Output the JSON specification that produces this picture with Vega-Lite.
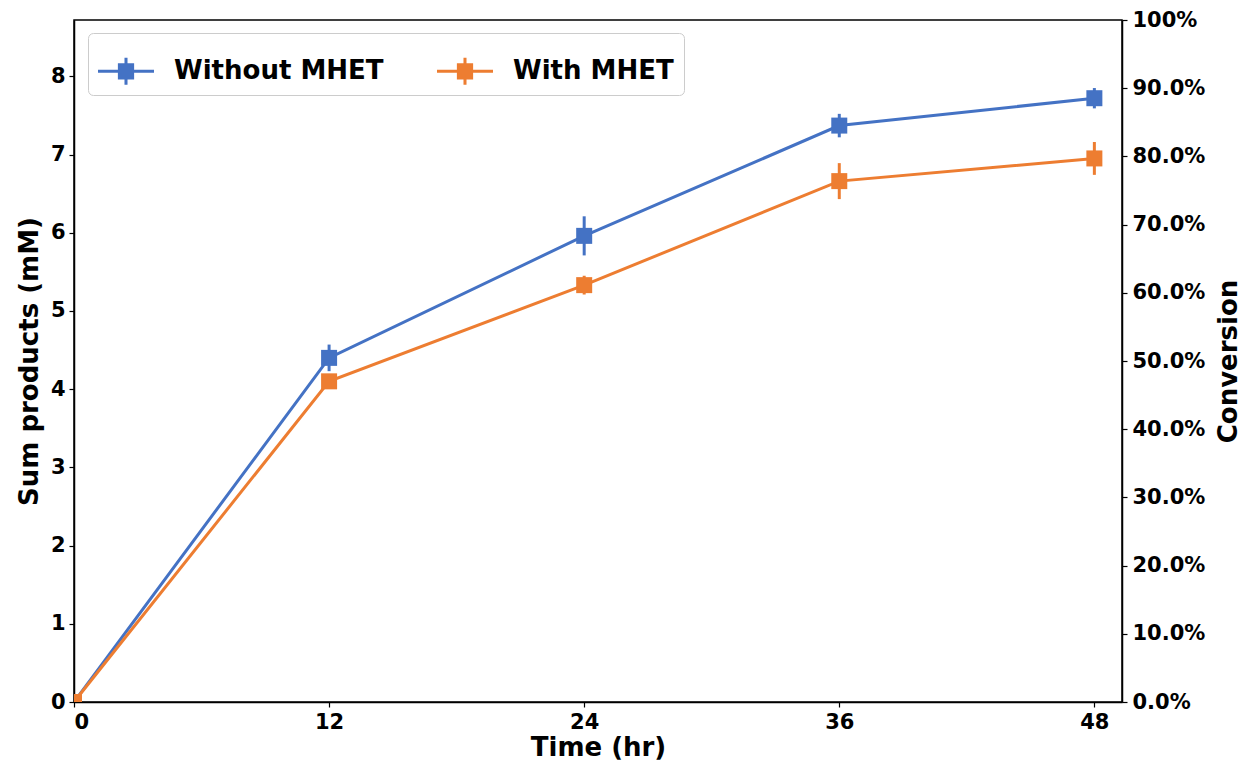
{
  "$schema": "https://vega.github.io/schema/vega-lite/v6.json",
  "width": 1048,
  "height": 682,
  "autosize": {"type": "none"},
  "padding": {"left": 74, "top": 20, "right": 120, "bottom": 63},
  "background": "white",
  "config": {
    "font": "DejaVu Sans",
    "view": {"stroke": "black", "strokeWidth": 1.5},
    "axis": {
      "grid": false,
      "domainColor": "black",
      "domainWidth": 1.5,
      "tickColor": "black",
      "tickWidth": 1.2,
      "tickSize": 5,
      "labelFont": "DejaVu Sans",
      "labelFontWeight": "bold",
      "labelFontSize": 21,
      "labelColor": "black",
      "titleFont": "DejaVu Sans",
      "titleFontWeight": "bold",
      "titleFontSize": 26,
      "titleColor": "black"
    }
  },
  "datasets": {
    "main": [
      {"time": 0, "value": 0, "err": 0, "series": "Without MHET"},
      {"time": 12, "value": 4.40, "err": 0.17, "series": "Without MHET"},
      {"time": 24, "value": 5.96, "err": 0.25, "series": "Without MHET"},
      {"time": 36, "value": 7.37, "err": 0.15, "series": "Without MHET"},
      {"time": 48, "value": 7.72, "err": 0.13, "series": "Without MHET"},
      {"time": 0, "value": 0, "err": 0, "series": "With MHET"},
      {"time": 12, "value": 4.10, "err": 0.05, "series": "With MHET"},
      {"time": 24, "value": 5.33, "err": 0.12, "series": "With MHET"},
      {"time": 36, "value": 6.66, "err": 0.23, "series": "With MHET"},
      {"time": 48, "value": 6.95, "err": 0.21, "series": "With MHET"}
    ],
    "conv": [{"conv": 0}, {"conv": 1}]
  },
  "layer": [
    {
      "layer": [
        {
          "data": {"name": "main"},
          "mark": {"type": "line", "strokeWidth": 3, "clip": true},
          "encoding": {
            "x": {"field": "time", "type": "quantitative",
                  "scale": {"domain": [0, 49.3], "nice": false},
                  "axis": {"values": [0, 12, 24, 36, 48], "title": "Time (hr)", "labelPadding": 4, "titlePadding": 2}},
            "y": {"field": "value", "type": "quantitative",
                  "scale": {"domain": [0, 8.72], "nice": false},
                  "axis": {"values": [0, 1, 2, 3, 4, 5, 6, 7, 8], "format": "d", "title": "Sum products (mM)", "labelPadding": 4, "titlePadding": 8}},
            "color": {"field": "series", "type": "nominal",
                      "scale": {"domain": ["Without MHET", "With MHET"], "range": ["#4472C4", "#ED7D31"]},
                      "legend": {
                        "title": null,
                        "orient": "none",
                        "legendX": 14,
                        "legendY": 13,
                        "direction": "horizontal",
                        "columns": 2,
                        "fillColor": "white",
                        "strokeColor": "#cccccc",
                        "cornerRadius": 5,
                        "padding": 10,
                        "columnPadding": 53,
                        "labelFont": "DejaVu Sans",
                        "labelFontWeight": "bold",
                        "labelFontSize": 26,
                        "labelColor": "black",
                        "labelLimit": 400,
                        "labelOffset": 20,
                        "symbolSize": 3136,
                        "symbolType": "M-1,-0.054H1V0.054H-1Z M-0.29,-0.29H0.29V0.29H-0.29Z M-0.054,-0.48H0.054V0.48H-0.054Z",
                        "symbolStrokeWidth": 0,
                        "encode": {"symbols": {"update": {"fill": {"scale": "color", "field": "value"}, "strokeWidth": {"value": 0}, "opacity": {"value": 1}}}}
                      }}
          }
        },
        {
          "data": {"name": "main"},
          "mark": {"type": "errorbar", "thickness": 3, "clip": true},
          "encoding": {
            "x": {"field": "time", "type": "quantitative", "title": "Time (hr)"},
            "y": {"field": "value", "type": "quantitative", "title": "Sum products (mM)"},
            "yError": {"field": "err"},
            "color": {"field": "series", "type": "nominal"}
          }
        },
        {
          "data": {"name": "main"},
          "mark": {"type": "point", "shape": "square", "filled": true, "opacity": 1, "size": 256, "clip": true},
          "encoding": {
            "x": {"field": "time", "type": "quantitative", "title": "Time (hr)"},
            "y": {"field": "value", "type": "quantitative", "title": "Sum products (mM)"},
            "color": {"field": "series", "type": "nominal"}
          }
        }
      ]
    },
    {
      "data": {"name": "conv"},
      "mark": {"type": "point", "opacity": 0},
      "encoding": {
        "y": {"field": "conv", "type": "quantitative",
              "scale": {"domain": [0, 1], "nice": false},
              "axis": {"orient": "right", "title": "Conversion", "titleAngle": 270, "titleX": 106, "titleY": 341, "titleAlign": "center", "titleBaseline": "middle", "values": [0, 0.1, 0.2, 0.3, 0.4, 0.5, 0.6, 0.7, 0.8, 0.9, 1],
                       "labelExpr": "datum.value == 1 ? '100%' : format(datum.value, '.1%')", "labelPadding": 5}}
      }
    }
  ],
  "resolve": {"scale": {"y": "independent"}}
}
